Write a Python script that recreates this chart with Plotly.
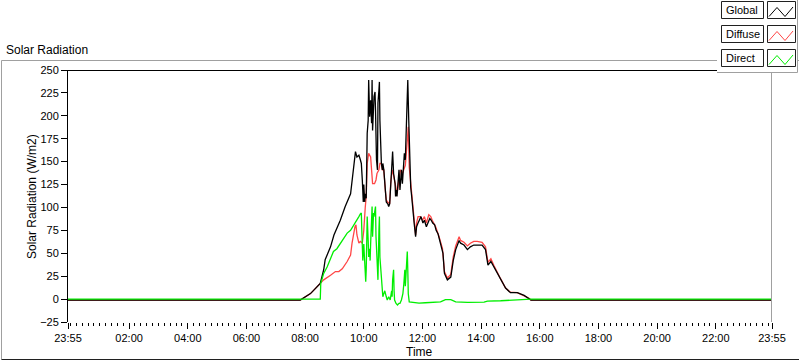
import pandas as pd
import plotly.graph_objects as go

# ---------------- data (minutes after midnight; -5 = 23:55 of the previous day), W/m2
global_min = [-5, 470, 491, 511, 518, 521, 532, 539, 552, 562, 573, 576, 579, 583, 586, 590, 593, 595,
              597, 599, 600, 602, 603, 605, 607, 609, 610, 612, 614, 616, 617, 618, 621, 623, 624, 626,
              628, 629, 631, 632, 633, 636, 638, 639, 641, 643, 644, 646, 649, 651, 653, 655, 657, 658,
              659, 661, 664, 665, 667, 668, 670, 672, 674, 676, 677, 679, 681, 683, 685, 687, 689, 690,
              692, 694, 696, 698, 699, 701, 703, 706, 708, 711, 714, 717, 721, 724, 728, 731, 735, 738,
              741, 745, 748, 752, 755, 758, 762, 765, 771, 778, 783, 788, 795, 798, 805, 812, 818, 825,
              832, 842, 849, 854, 860, 866, 873, 880, 890, 900, 914, 928, 938, 942, 1435]
global_val = [-1, -1, 6, 17, 32, 43, 57, 70, 86, 101, 115, 130, 144, 161, 155, 157, 152, 148,
              130, 106, 125, 106, 115, 110, 181, 195, 239, 199, 217, 192, 239, 184, 221, 226, 206, 152,
              141, 214, 228, 237, 195, 148, 141, 148, 141, 130, 119, 106, 104, 101, 104, 126, 141, 155,
              161, 137, 126, 112, 119, 112, 126, 141, 119, 130, 141, 126, 148, 159, 152, 181, 217, 239,
              195, 144, 122, 112, 104, 93, 83, 68, 79, 83, 86, 90, 83, 86, 79, 83, 88, 86,
              83, 81, 75, 71, 64, 57, 50, 28, 21, 24, 42, 54, 64, 61, 59, 54, 57, 59,
              59, 59, 54, 37, 41, 35, 28, 21, 12, 7, 7, 4, 1, -1, -1]

diffuse_min = [-5, 470, 491, 511, 518, 532, 542, 549, 556, 566, 573, 576, 579, 582, 584, 586, 590, 593,
               597, 600, 603, 605, 607, 610, 614, 616, 618, 622, 625, 627, 631, 633, 636, 638, 641, 644,
               646, 649, 653, 655, 658, 661, 665, 668, 672, 675, 679, 682, 685, 689, 691, 693, 696, 699,
               706, 708, 711, 716, 720, 724, 728, 733, 737, 740, 747, 754, 757, 761, 765, 771, 778, 783,
               788, 795, 798, 805, 812, 818, 825, 832, 842, 849, 854, 860, 866, 873, 880, 890, 900, 914,
               928, 938, 942, 1435]
diffuse_val = [-1, -1, 6, 17, 21, 26, 30, 30, 33, 41, 48, 61, 72, 79, 81, 70, 61, 63,
               61, 75, 100, 112, 148, 159, 155, 141, 126, 126, 130, 137, 141, 148, 148, 141, 141, 119,
               108, 106, 104, 126, 141, 135, 122, 115, 130, 141, 137, 141, 146, 173, 188, 144, 126, 104,
               70, 83, 90, 90, 86, 90, 83, 92, 90, 86, 79, 68, 61, 55, 30, 23, 27, 46,
               58, 68, 64, 62, 58, 61, 63, 63, 62, 57, 40, 44, 37, 29, 22, 12, 7.5, 7,
               4, 1, -1, -1]

direct_min = [-5, 511, 512, 518, 525, 532, 538, 545, 552, 559, 566, 573, 578, 583, 586, 590, 593, 595,
              596, 598, 600, 602, 604, 605, 607, 609, 610, 612, 613, 614, 616, 617, 618, 620, 621, 622,
              624, 625, 627, 629, 631, 632, 633, 635, 636, 639, 641, 643, 646, 648, 651, 654, 657, 658,
              659, 661, 662, 663, 666, 669, 672, 674, 677, 680, 682, 684, 685, 687, 689, 690, 691, 693,
              699, 713, 726, 740, 757, 767, 778, 788, 812, 846, 853, 880, 941, 942, 1435]
direct_val = [0, 0, 17, 28, 35, 44, 52, 55, 61, 66, 72, 75, 79, 83, 86, 90, 93, 94,
              75, 42, 60, 35, 19, 32, 90, 64, 46, 55, 42, 60, 97, 101, 68, 94, 90, 94,
              101, 68, 32, 21, 75, 90, 46, 32, 17, 2.5, 6, 9, 2.5, -1, 2.5, -1, 9, 2.5,
              21, 32, 9, -1, -4.7, -6.5, -4.7, -4.7, -1, 6, 17, 32, 14, 39, 52, 32, 6, -3,
              -3.5, -4.5, -4, -3.5, -3, -0.5, -0.5, -3, -3.5, -3.3, -2.2, -1.8, -0.5, 0, 0]

series_names = ["Global", "Diffuse", "Direct"]
series_colors = ["#000000", "#ff4646", "#00ee00"]

tick_minutes = [-5, 120, 240, 360, 480, 600, 720, 840, 960, 1080, 1200, 1320, 1435]
tick_labels = ["23:55", "02:00", "04:00", "06:00", "08:00", "10:00", "12:00",
               "14:00", "16:00", "18:00", "20:00", "22:00", "23:55"]
y_ticks = [-25, 0, 25, 50, 75, 100, 125, 150, 175, 200, 225, 250]
minor_step = 12

# ---------------- helpers
BASE = pd.Timestamp("2015-03-10")


def to_time(minutes):
    return [BASE + pd.Timedelta(minutes=m) for m in minutes]


W, H = 800, 361
L, R, T, B = 68, 772, 70, 322
FONT = "Liberation Sans"


def px(x):
    return (x - L) / (R - L)


def py(y):
    return (B - y) / (B - T)


fig = go.Figure()
data = {
    "Global": (global_min, global_val),
    "Diffuse": (diffuse_min, diffuse_val),
    "Direct": (direct_min, direct_val),
}
colors = dict(zip(series_names, series_colors))
for name in ["Diffuse", "Global", "Direct"]:
    mins, vals = data[name]
    fig.add_trace(go.Scatter(x=to_time(mins), y=vals, mode="lines", name=name,
                             line=dict(color=colors[name], width=1.3), showlegend=False))

shapes = []


def line(x0, y0, x1, y1, color, width=1):
    shapes.append(dict(type="line", xref="paper", yref="paper",
                       x0=px(x0), y0=py(y0), x1=px(x1), y1=py(y1),
                       line=dict(color=color, width=width)))


def rect(x0, y0, x1, y1, fill, color=None, width=1):
    shapes.append(dict(type="rect", xref="paper", yref="paper",
                       x0=px(x0), y0=py(y0), x1=px(x1), y1=py(y1),
                       fillcolor=fill, line=dict(color=color or fill, width=width if color else 0)))


# outer frame
line(1.5, 60.5, 799, 60.5, "#a0a0a0")
line(1.5, 60.5, 1.5, 359.5, "#a0a0a0")
line(1.5, 359.5, 799, 359.5, "#202020")
# plot frame (top black, right gray)
line(68, 70.5, 772, 70.5, "#000000")
line(771.5, 70.5, 771.5, 322, "#a0a0a0")

# legend panel
rect(717, 0, 797, 72, "#ffffff")
line(797.5, 0, 797.5, 72.5, "#a0a0a0")
line(717, 72.5, 797.5, 72.5, "#a0a0a0")

annotations = []
row_tops = [1.5, 25.5, 49.5]
for name, top in zip(series_names, row_tops):
    rect(721.5, top, 763.5, top + 17, "#ffffff", "#202020")
    rect(767.5, top, 795.5, top + 17, "#ffffff", "#202020")
    pts = [(769, top + 15), (777, top + 6), (785, top + 15), (793, top + 5.5)]
    path = "M " + " L ".join(f"{px(a)},{py(b)}" for a, b in pts)
    shapes.append(dict(type="path", xref="paper", yref="paper", path=path,
                       line=dict(color=colors[name], width=1)))
    annotations.append(dict(text=name, xref="paper", yref="paper", x=px(723.5), y=py(top + 8.7),
                            xanchor="left", yanchor="middle", showarrow=False,
                            font=dict(family=FONT, size=11, color="#000000")))

annotations += [
    dict(text="Solar Radiation", xref="paper", yref="paper", x=px(4), y=py(50),
         xanchor="left", yanchor="middle", showarrow=False,
         font=dict(family=FONT, size=12, color="#000000")),
    dict(text="Solar Radiation (W/m2)", xref="paper", yref="paper", x=px(32), y=py(197),
         xanchor="center", yanchor="middle", textangle=-90, showarrow=False,
         font=dict(family=FONT, size=12, color="#000000")),
    dict(text="Time", xref="paper", yref="paper", x=px(419), y=py(352),
         xanchor="center", yanchor="middle", showarrow=False,
         font=dict(family=FONT, size=12, color="#000000")),
]

fig.update_layout(
    width=W, height=H,
    margin=dict(l=L, r=W - R, t=T, b=H - B, pad=0),
    paper_bgcolor="#ffffff", plot_bgcolor="#ffffff",
    font=dict(family=FONT, size=11, color="#000000"),
    shapes=shapes, annotations=annotations,
    xaxis=dict(type="date", range=[to_time([tick_minutes[0]])[0], to_time([tick_minutes[-1]])[0]],
               tickmode="array", tickvals=to_time(tick_minutes), ticktext=tick_labels,
               ticks="outside", ticklen=6, tickcolor="#000000", tickwidth=1,
               showline=False, showgrid=False, zeroline=False,
               tickfont=dict(family=FONT, size=11, color="#000000"),
               minor=dict(tickmode="linear", tick0=BASE, dtick=minor_step * 60 * 1000,
                          ticks="outside", ticklen=3, tickcolor="#000000", showgrid=False)),
    yaxis=dict(range=[-25, 250], tickmode="array", tickvals=y_ticks,
               ticks="outside", ticklen=6, tickcolor="#000000", tickwidth=1,
               showline=True, linecolor="#000000", linewidth=1,
               showgrid=False, zeroline=False,
               tickfont=dict(family=FONT, size=11, color="#000000")),
)

fig.write_html("out.html", config={"displayModeBar": False},
               post_script="document.body.style.margin='0';document.body.style.overflow='hidden';")
